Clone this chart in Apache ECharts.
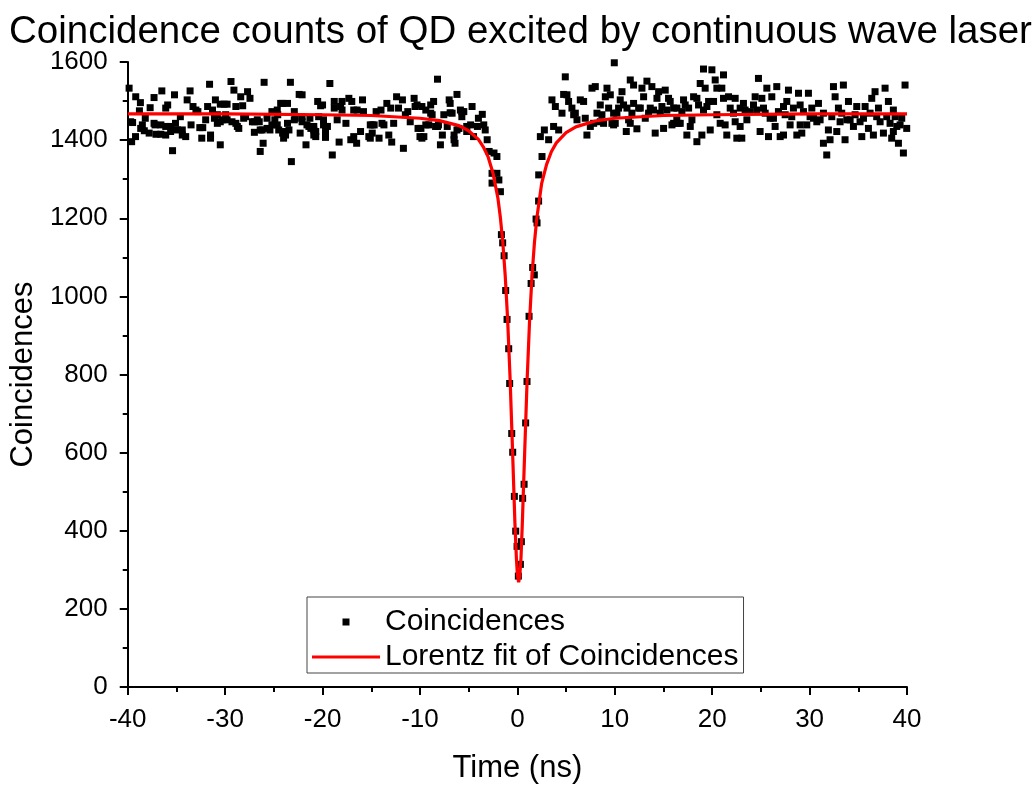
<!DOCTYPE html>
<html>
<head>
<meta charset="utf-8">
<script src="https://cdn.jsdelivr.net/npm/echarts@6/dist/echarts.min.js"></script>
<style>html,body{margin:0;padding:0;background:#fff}#c{width:1032px;height:789px}</style>
</head>
<body>
<div id="c"></div>
<script>
// Measured coincidence counts: [time (ns), counts]
const measured = [
[-39.86,1533],[-39.7,1447],[-39.6,1396],[-39.2,1409],[-39.18,1511],[-38.8,1475],[-38.7,1496],[-38.5,1439],[-38.3,1424],[-38.2,1456],[-37.8,1418],[-37.7,1483],[-37.3,1509],[-37.2,1439],[-37.1,1415],[-36.6,1439],[-36.6,1415],[-36.5,1526],[-36.1,1482],[-36.1,1413],[-35.9,1490],[-35.6,1435],[-35.4,1373],[-35.2,1516],[-35.1,1443],[-34.9,1426],[-34.6,1460],[-34.4,1413],[-34.05,1409],[-33.9,1503],[-33.6,1526],[-33.5,1439],[-33.3,1486],[-33.0,1477],[-32.6,1432],[-32.4,1405],[-32.3,1432],[-32.0,1452],[-31.8,1486],[-31.6,1543],[-31.5,1413],[-31.3,1477],[-31.0,1503],[-30.8,1465],[-30.5,1388],
[-30.3,1452],[-30.1,1492],[-29.95,1465],[-29.4,1550],[-29.3,1447],[-29.1,1528],[-28.9,1486],[-28.75,1435],[-28.4,1511],[-28.2,1488],[-28.1,1456],[-27.9,1460],[-27.7,1524],[-27.45,1507],[-27.2,1447],[-27.0,1420],[-26.7,1452],[-26.5,1447],[-26.4,1371],[-26.2,1426],[-26.1,1392],[-26.0,1548],[-25.7,1456],[-25.4,1426],[-25.2,1473],[-24.9,1452],[-24.65,1439],[-24.6,1465],[-24.3,1494],[-24.1,1418],[-23.8,1413],[-23.6,1494],[-23.45,1426],[-23.3,1548],[-23.2,1345],[-22.9,1473],[-22.8,1456],[-22.4,1517],[-22.3,1418],[-22.1,1516],[-22.1,1460],[-21.7,1388],[-21.6,1439],[-21.3,1456],[-21.2,1430],[-20.9,1413],[-20.7,1422],[-20.5,1499],[-20.4,1460],
[-20.0,1490],[-19.9,1439],[-19.7,1418],[-19.5,1435],[-19.25,1545],[-19.0,1362],[-18.8,1482],[-18.8,1499],[-18.5,1452],[-18.3,1395],[-18.15,1486],[-18.0,1499],[-17.6,1443],[-17.3,1507],[-17.1,1401],[-17.0,1499],[-16.8,1409],[-16.5,1392],[-16.45,1477],[-16.1,1422],[-15.9,1503],[-15.8,1473],[-15.25,1409],[-15.1,1439],[-14.9,1418],[-14.7,1439],[-14.5,1473],[-14.2,1405],[-14.0,1477],[-13.7,1439],[-13.4,1494],[-13.2,1413],[-13.0,1482],[-12.9,1395],[-12.7,1443],[-12.4,1511],[-12.2,1482],[-11.8,1503],[-11.7,1379],[-11.5,1465],[-11.25,1473],[-11.0,1447],[-10.6,1507],[-10.5,1486],[-10.2,1430],[-10.0,1409],
[-9.8,1486],[-9.6,1409],[-9.4,1439],[-9.1,1439],[-8.9,1490],[-8.75,1465],[-8.6,1499],[-8.4,1435],[-8.2,1556],[-8.1,1439],[-7.9,1388],[-7.7,1413],[-7.55,1465],[-7.2,1435],[-7.0,1503],[-6.9,1494],[-6.7,1469],[-6.5,1413],[-6.4,1392],[-6.2,1517],[-6.0,1430],[-5.85,1477],[-5.7,1460],[-5.5,1473],[-5.2,1422],[-4.8,1439],[-4.65,1486],[-4.5,1409],[-4.1,1435],[-4.0,1456],[-3.6,1466],[-3.45,1439],[-3.3,1426],[-3.1,1401],[-2.9,1371],[-2.6,1315],[-2.6,1290],[-2.4,1367],[-2.1,1358],[-2.1,1315],[-1.9,1298],
[-1.74,1268],[-1.64,1158],[-1.51,1137],[-1.36,1104],[-1.2,1015],[-1.06,941],[-0.89,866],[-0.79,777],[-0.58,649],[-0.48,601],[-0.31,488],[-0.17,399],[-0.03,360],[0.1,284],[0.31,314],[0.41,372],[0.54,483],[0.69,519],[0.85,676],[0.99,782],[1.2,949],[1.41,1033],[1.57,1074],[1.74,1055],[1.92,1198],[2.02,1188],[2.18,1244],[2.19,1311],
[2.36,1409],[2.53,1358],[2.77,1426],[3.21,1401],[3.55,1503],[3.72,1435],[3.9,1486],[4.24,1426],[4.58,1469],[4.75,1517],[4.92,1562],[5.09,1516],[5.26,1499],[5.6,1482],[5.78,1465],[6.12,1452],[6.46,1503],[6.8,1499],[7.14,1413],[7.49,1435],[7.66,1533],[8.0,1537],[8.17,1469],[8.51,1490],[8.85,1443],[9.03,1511],[9.2,1533],[9.54,1516],[9.71,1443],[9.88,1469],[9.95,1598],[10.05,1443],[10.39,1482],[10.74,1524],[10.9,1490],[11.18,1422],[11.42,1452],[11.59,1554],[11.93,1541],[11.93,1494],[12.27,1429],[12.45,1482],[12.79,1533],[13.3,1551],[13.64,1482],[13.81,1537],[14.15,1418],[14.33,1507],[14.5,1524],[14.84,1486],[15.01,1430],[15.18,1528],[15.52,1507],[15.87,1439],[16.04,1482],[16.37,1452],[16.55,1443],[16.72,1443],[17.06,1503],[17.23,1490],[17.4,1413],[17.75,1435],[18.09,1511],[18.43,1396],[18.6,1490],[18.77,1545],[18.94,1413],[19.11,1582],[19.28,1533],[19.46,1486],[19.8,1426],[19.97,1580],[20.14,1499],[20.31,1554],[20.48,1533],[20.82,1443],
[20.99,1533],[21.16,1567],[21.16,1507],[21.33,1439],[21.5,1413],[21.68,1511],[21.85,1482],[22.36,1507],[22.36,1447],[22.53,1405],[22.87,1435],[23.21,1494],[23.38,1477],[23.56,1452],[24.24,1490],[24.41,1511],[24.75,1558],[24.92,1422],[25.1,1507],[25.27,1482],[25.61,1533],[25.78,1409],[26.12,1511],[26.29,1456],[26.46,1435],[26.63,1537],[26.98,1409],[27.32,1486],[27.66,1499],[27.83,1528],[28.0,1439],[28.34,1482],[28.69,1413],[28.86,1520],[29.03,1490],[29.2,1418],[29.71,1439],[29.88,1520],[30.23,1482],[30.4,1456],[30.91,1494],[31.08,1452],[31.42,1392],[31.76,1362],[31.93,1426],[32.1,1401],[32.45,1537],[32.62,1511],[32.96,1482],[33.13,1447],[33.47,1541],[33.64,1401],[33.99,1499],[34.16,1452],[34.5,1435],[34.84,1486],[35.18,1447],[35.36,1409],[35.7,1486],[36.04,1430],[36.38,1507],[36.72,1524],[36.89,1460],[37.24,1447],[37.58,1418],[37.75,1533],[38.09,1499],[38.43,1405],[38.6,1477],[38.95,1435],[39.12,1392],[39.46,1456],[39.63,1367],[39.8,1541],[39.97,1430],
[-39.5,1445],[-38.67,1430],[-37.3,1443],[-36.1,1435],[-34.4,1426],[-35.6,1422],[-32.8,1473],[-31.1,1456],[-30.8,1443],[-30.5,1447],[-30.5,1492],[-29.8,1452],[-29.8,1492],[-28.9,1443],[-28.6,1430],[-27.0,1447],[-26.4,1426],[-25.7,1430],[-25.2,1439],[-24.65,1477],[-24.5,1426],[-24.1,1494],[-24.0,1405],[-23.8,1422],[-23.6,1443],[-22.9,1452],[-22.1,1447],[-21.4,1435],[-20.9,1426],[-31.5,1405],
[-20.2,1488],[-18.0,1477],[-16.8,1477],[-10.3,1490],[-9.4,1477],[-8.9,1469],[-6.9,1470],[-5.7,1473],[-20.9,1435],[-19.9,1452],[-19.7,1435],[-14.9,1439],[-13.9,1443],[-9.9,1430],[-8.2,1435],[-6.2,1426],[-5.2,1435],[-20.7,1409],[-19.7,1407],[-15.1,1405],[-9.8,1405],[-6.5,1401],
[5.95,1469],[6.97,1456],[7.83,1443],[8.68,1465],[9.37,1482],[10.22,1469],[11.25,1482],[11.76,1469],[12.62,1482],[13.13,1456],[13.47,1469],[13.98,1477],[14.67,1469],[15.35,1477],[16.38,1482],[16.89,1473],[17.58,1482],[17.92,1452],[19.11,1477],[19.63,1499],[20.48,1465],[9.88,1439],[8.51,1447],[11.59,1443],[16.04,1443],[10.56,1503],[12.96,1511],[15.69,1499],[18.43,1507],
[22.19,1469],[22.87,1482],[23.9,1473],[24.58,1477],[25.44,1469],[25.95,1456],[26.8,1473],[27.49,1465],[28.17,1460],[29.37,1473],[30.05,1460],[30.74,1447],[31.42,1469],[32.28,1460],[33.3,1469],[33.82,1452],[34.67,1465],[35.53,1456],[36.21,1469],[37.07,1482],[37.92,1460],[38.26,1443],[38.78,1460],[39.29,1439],[23.04,1405],[27.32,1413],[29.03,1439],[32.79,1422],[36.55,1413],[38.6,1422]
];

// Lorentz fit curve: [time (ns), counts]
const fitCurve = [
[-40,1467],[-30,1467],[-20,1465],[-15,1463],[-10,1456],[-8,1450],[-6,1437],[-5,1424],[-4,1402],[-3.5,1383],[-3,1357],[-2.5,1315],[-2,1252],[-1.75,1203],[-1.5,1140],[-1.25,1054],[-1,941],[-0.75,792],[-0.5,609],[-0.25,419],[-0.1,330],[0,288],[0.13,268],[0.25,285],[0.37,330],[0.5,413],[0.75,601],[1,785],[1.25,936],[1.5,1051],[1.75,1137],[2,1201],[2.5,1290],[3,1338],[3.5,1371],[4,1393],[5,1419],[6,1434],[8,1449],[10,1456],[15,1463],[20,1465],[30,1467],[40,1467]
];

const titleText = 'Coincidence counts of QD excited by continuous wave laser';
const xName = 'Time (ns)';
const yName = 'Coincidences';
const seriesNames = ['Coincidences', 'Lorentz fit of Coincidences'];

const FONT = "'Liberation Sans', Arial, sans-serif";
const chart = echarts.init(document.getElementById('c'), null, {renderer: 'canvas'});
const axisCommon = {
  axisLine: {show: true, onZero: false, lineStyle: {color: '#000', width: 2}},
  axisTick: {show: true, inside: false, length: 8, lineStyle: {color: '#000', width: 2}},
  minorTick: {show: true, splitNumber: 2, length: 5, lineStyle: {color: '#000', width: 2}},
  splitLine: {show: false},
  axisLabel: {color: '#000', fontSize: 26, fontFamily: FONT, formatter: function (v) { return String(v); }},
  nameTextStyle: {color: '#000', fontSize: 31, fontFamily: FONT},
  nameLocation: 'middle'
};
chart.setOption({
  animation: false,
  backgroundColor: '#fff',
  title: {text: titleText, left: 4, top: 8, textStyle: {color: '#000', fontSize: 38.5, fontWeight: 'normal', fontFamily: FONT}},
  grid: {left: 127, right: 125, top: 62, bottom: 99, containLabel: false},
  xAxis: Object.assign({}, axisCommon, {
    type: 'value', min: -40, max: 40, interval: 10, name: xName, nameGap: 66,
    axisLabel: Object.assign({}, axisCommon.axisLabel, {margin: 20})
  }),
  yAxis: Object.assign({}, axisCommon, {
    type: 'value', min: 0, max: 1600, interval: 200, name: yName, nameGap: 83,
    axisLabel: Object.assign({}, axisCommon.axisLabel, {margin: 20})
  }),
  legend: {
    orient: 'vertical', left: 307, top: 597,
    itemWidth: 68, itemHeight: 7, itemGap: 5,
    padding: [10, 5, 1, 5],
    symbolKeepAspect: true,
    backgroundColor: '#fff', borderColor: '#444', borderWidth: 1,
    textStyle: {color: '#000', fontSize: 30, fontFamily: FONT},
    data: [
      {name: seriesNames[0], icon: 'path://M0,0h10v10h-10z', itemStyle: {color: '#000'}},
      {name: seriesNames[1], icon: 'path://M0,0h68v3h-68z', itemStyle: {color: '#ff0000'}}
    ]
  },
  series: [
    {name: seriesNames[0], type: 'scatter', data: measured, symbol: 'rect', symbolSize: 7,
     itemStyle: {color: '#000', opacity: 1}},
    {name: seriesNames[1], type: 'line', data: fitCurve, showSymbol: false, symbol: 'none',
     lineStyle: {color: '#ff0000', width: 3.2}, itemStyle: {color: '#ff0000'}, z: 3}
  ]
});
</script>
</body>
</html>
